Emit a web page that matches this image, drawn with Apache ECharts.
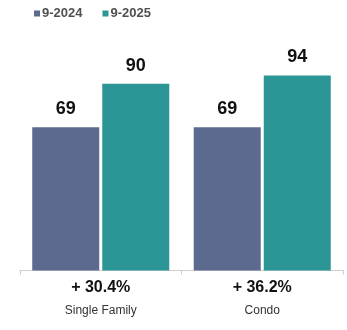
<!DOCTYPE html>
<html>
<head>
<meta charset="utf-8">
<script src="https://cdn.jsdelivr.net/npm/echarts@6/dist/echarts.min.js"></script>
<style>
  html, body { margin: 0; padding: 0; background: #fff; }
  #chart { width: 347px; height: 330px; }
</style>
</head>
<body>
<div id="chart"></div>
<script>
// Property types and year-over-year change shown under each group
const categories = ['Single Family', 'Condo'];
const changeLabels = ['+ 30.4%', '+ 36.2%'];
const seriesNames = ['9-2024', '9-2025'];
const values2024 = [69, 69];
const values2025 = [90, 94];

const colors = ['#5b6a8e', '#2b9695'];
const font = '"Liberation Sans", Arial, Helvetica, sans-serif';

const chart = echarts.init(document.getElementById('chart'), null, { renderer: 'canvas' });

const valueLabel = {
  show: true,
  position: 'top',
  distance: 9,
  fontFamily: font,
  fontSize: 18,
  fontWeight: 'bold',
  color: '#111'
};

chart.setOption({
  animation: false,
  backgroundColor: '#fff',
  legend: {
    data: seriesNames,
    left: 29,
    top: 2,
    icon: 'rect',
    itemWidth: 6,
    itemHeight: 6,
    itemGap: 20,
    textStyle: {
      fontFamily: font,
      fontSize: 13,
      fontWeight: 'bold',
      color: '#505050',
      padding: [0, 0, 0, -3]
    }
  },
  grid: { left: 20, right: 4, top: 63, bottom: 59.5 },
  xAxis: {
    type: 'category',
    data: categories,
    axisLine: { show: true, lineStyle: { color: '#cfcfcf', width: 1 } },
    axisTick: { show: true, length: 4, lineStyle: { color: '#cfcfcf' } },
    axisLabel: {
      margin: 6,
      interval: 0,
      formatter: function (value, idx) {
        return '{pct|' + changeLabels[idx] + '}\n{name|' + value + '}';
      },
      rich: {
        pct: { fontFamily: font, fontSize: 16, fontWeight: 'bold', color: '#111', lineHeight: 22 },
        name: { fontFamily: font, fontSize: 12, color: '#333', lineHeight: 24 }
      }
    }
  },
  yAxis: {
    type: 'value',
    min: 0,
    max: 100,
    show: false,
    splitLine: { show: false }
  },
  series: [
    {
      name: seriesNames[0],
      type: 'bar',
      data: values2024,
      barWidth: 67,
      barGap: '4.5%',
      itemStyle: { color: colors[0] },
      label: valueLabel
    },
    {
      name: seriesNames[1],
      type: 'bar',
      data: values2025,
      barWidth: 67,
      barGap: '4.5%',
      itemStyle: { color: colors[1] },
      label: valueLabel
    }
  ]
});
</script>
</body>
</html>
